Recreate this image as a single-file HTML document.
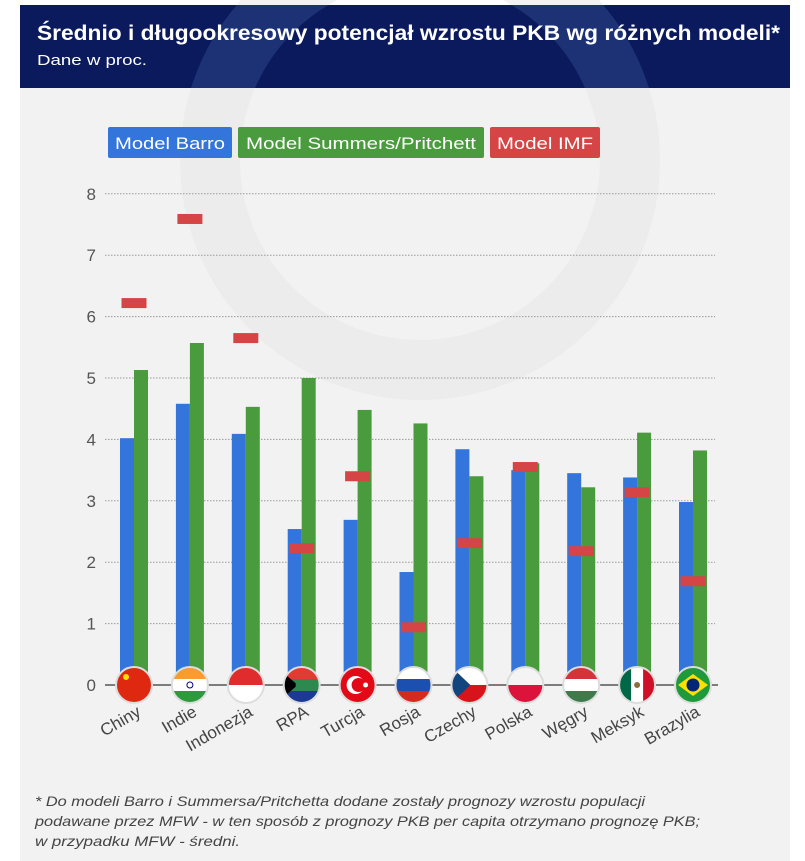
<!DOCTYPE html>
<html><head><meta charset="utf-8"><style>
html,body{margin:0;padding:0;background:#fff;}
svg{display:block;font-family:"Liberation Sans",sans-serif;}
</style></head><body>
<svg id="chart" width="805" height="861" viewBox="0 0 805 861">
<rect x="20" y="5" width="770" height="856" fill="#f2f2f2"/>
<g opacity="0.5">
<circle cx="420" cy="160" r="210" fill="none" stroke="#e6e6e6" stroke-width="60"/>
</g>
<rect x="20" y="5" width="770" height="83" fill="#0b1a5c"/>
<circle cx="420" cy="160" r="210" fill="none" stroke="#1d3275" stroke-width="60" clip-path="url(#hc)"/>
<clipPath id="hc"><rect x="20" y="5" width="770" height="83"/></clipPath>
<text x="37" y="40" fill="#fff" font-size="21" font-weight="bold" textLength="743" lengthAdjust="spacingAndGlyphs">Średnio i długookresowy potencjał wzrostu PKB wg różnych modeli*</text>
<text x="37" y="65" fill="#fff" font-size="15" textLength="110" lengthAdjust="spacingAndGlyphs">Dane w proc.</text>
<g>
<rect x="108" y="127" width="124" height="31" rx="2" fill="#3375db"/>
<text x="170" y="149" fill="#fff" font-size="17" text-anchor="middle" textLength="110" lengthAdjust="spacingAndGlyphs">Model Barro</text>
<rect x="238" y="127" width="246" height="31" rx="2" fill="#4a9a3e"/>
<text x="361" y="149" fill="#fff" font-size="17" text-anchor="middle" textLength="230" lengthAdjust="spacingAndGlyphs">Model Summers/Pritchett</text>
<rect x="490" y="127" width="110" height="31" rx="2" fill="#d64545"/>
<text x="545" y="149" fill="#fff" font-size="17" text-anchor="middle" textLength="96" lengthAdjust="spacingAndGlyphs">Model IMF</text>
</g>
<g id="grid"></g><g id="bars"></g><g id="flags"></g><g id="labels"></g>
<g fill="#444" font-size="14" font-style="italic">
<text x="35" y="806" textLength="610" lengthAdjust="spacingAndGlyphs">* Do modeli Barro i Summersa/Pritchetta dodane zostały prognozy wzrostu populacji</text>
<text x="35" y="826" textLength="665" lengthAdjust="spacingAndGlyphs">podawane przez MFW - w ten sposób z prognozy PKB per capita otrzymano prognozę PKB;</text>
<text x="35" y="846" textLength="205" lengthAdjust="spacingAndGlyphs">w  przypadku MFW - średni.</text>
</g>
</svg>
<script>
const categories=["Chiny","Indie","Indonezja","RPA","Turcja","Rosja","Czechy","Polska","Węgry","Meksyk","Brazylia"];
const barro=[4.02,4.58,4.09,2.54,2.69,1.84,3.84,3.50,3.45,3.38,2.98];
const summers=[5.13,5.57,4.53,5.00,4.48,4.26,3.40,3.61,3.22,4.11,3.82];
const imf=[6.22,7.59,5.65,2.23,3.40,0.94,2.31,3.55,2.18,3.14,1.69];
const yTicks=[0,1,2,3,4,5,6,7,8];
const NS="http://www.w3.org/2000/svg";
function y(v){return 685-v*61.4;}
function x(i){return 134+i*55.9;}
function mk(tag,attrs,parent){const e=document.createElementNS(NS,tag);for(const k in attrs)e.setAttribute(k,attrs[k]);parent.appendChild(e);return e;}
const grid=document.getElementById('grid');
yTicks.forEach(t=>{
 if(t>0){const l=mk('line',{x1:105,x2:715,y1:y(t),y2:y(t),stroke:'#999','stroke-dasharray':'1.5 1.5','stroke-width':1},grid);
 
 }
 const tx=mk('text',{x:96,y:y(t)+6,'text-anchor':'end','font-size':17,fill:'#555'},grid);
 tx.textContent=t;
 
 
});
const base=mk('line',{x1:105,x2:718,y1:685,y2:685,stroke:'#555','stroke-width':1.5},grid);


const bars=document.getElementById('bars');
categories.forEach((c,i)=>{
 const b=mk('rect',{x:x(i)-14,y:y(barro[i]),width:14,height:685-y(barro[i]),fill:'#3375db'},bars);
 
 
 const g=mk('rect',{x:x(i),y:y(summers[i]),width:14,height:685-y(summers[i]),fill:'#4a9a3e'},bars);
 
 
 const m=mk('rect',{x:x(i)-12.5,y:y(imf[i])-5,width:25,height:10,fill:'#d64545'},bars);
 
 
});
const flagStripes=[
 [['#de2910',1]],
 [['#f99a33',1],['#fff',1],['#2e9a3a',1]],
 [['#e02c2c',1],['#fff',1]],
 [['#e03c31',1],['#2d8a4e',1],['#1c3a93',1]],
 [['#e30a17',1]],
 [['#fff',1],['#1b4fb0',1],['#d52b1e',1]],
 [['#fff',1],['#d7141a',1]],
 [['#f4f4f4',1],['#dc143c',1]],
 [['#d2343a',1],['#fff',1],['#3f7a4a',1]],
 [['#fff',1]],
 [['#1e9a3a',1]]
];
const flags=document.getElementById('flags');
const defs=mk('defs',{},flags);
categories.forEach((c,i)=>{
 const cx=x(i),cy=685,r=18;
 const cp=mk('clipPath',{id:'fc'+i},defs);
 mk('circle',{cx:cx,cy:cy,r:r},cp);
 const g=mk('g',{'clip-path':'url(#fc'+i+')'},flags);
 
 
 const s=flagStripes[i];const h=2*r/s.length;
 s.forEach((st,k)=>mk('rect',{x:cx-r,y:cy-r+k*h,width:2*r,height:h,fill:st[0]},g));
 if(i===0){mk('circle',{cx:cx-8,cy:cy-8,r:3,fill:'#ffde00'},g);}
 if(i===1){mk('circle',{cx:cx,cy:cy,r:3,fill:'none',stroke:'#000080'},g);}
 if(i===3){mk('polygon',{points:`${cx-r},${cy-12} ${cx-4},${cy} ${cx-r},${cy+12}`,fill:'#000'},g);mk('rect',{x:cx-6,y:cy-3,width:2*r,height:6,fill:'#2d8a4e'},g);}
 if(i===4){mk('circle',{cx:cx-2,cy:cy,r:9,fill:'#fff'},g);mk('circle',{cx:cx+1,cy:cy,r:7,fill:'#e30a17'},g);mk('circle',{cx:cx+8,cy:cy,r:2.5,fill:'#fff'},g);}
 if(i===6){mk('polygon',{points:`${cx-r},${cy-r} ${cx+1},${cy} ${cx-r},${cy+r}`,fill:'#11457e'},g);}
 if(i===9){mk('rect',{x:cx-r,y:cy-r,width:12,height:2*r,fill:'#006847'},g);mk('rect',{x:cx+6,y:cy-r,width:12,height:2*r,fill:'#ce1126'},g);mk('circle',{cx:cx,cy:cy,r:3,fill:'#8a6d3b'},g);}
 if(i===10){mk('polygon',{points:`${cx-15},${cy} ${cx},${cy-11} ${cx+15},${cy} ${cx},${cy+11}`,fill:'#fedf00'},g);mk('circle',{cx:cx,cy:cy,r:6.5,fill:'#002776'},g);}
 mk('circle',{cx:cx,cy:cy,r:r,fill:'none',stroke:'#ddd','stroke-width':2},flags);
});
const labels=document.getElementById('labels');
categories.forEach((c,i)=>{
 const t=mk('text',{x:x(i)+8,y:715,'text-anchor':'end','font-size':17,fill:'#444',transform:`rotate(-30 ${x(i)+8} 715)`},labels);
 t.textContent=c;
 
 
});
</script>
</body></html>
